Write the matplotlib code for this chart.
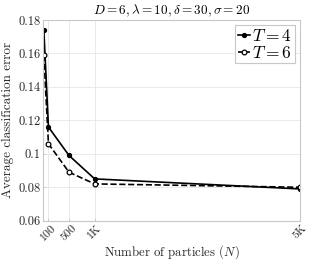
import matplotlib
matplotlib.use("Agg")
import matplotlib.pyplot as plt

plt.rcParams['font.family'] = ['cmr10', 'DejaVu Serif']
plt.rcParams['mathtext.fontset'] = 'cm'
plt.rcParams['axes.formatter.use_mathtext'] = True

N = [10, 100, 500, 1000, 5000]
err_T4 = [0.174, 0.116, 0.099, 0.085, 0.079]
err_T6 = [0.159, 0.106, 0.089, 0.082, 0.080]
xticks = [100, 500, 1000, 5000]
xticklabels = ['100', '500', '1K', '5K']
yticks = [0.06, 0.08, 0.10, 0.12, 0.14, 0.16, 0.18]
yticklabels = ['0.06', '0.08', '0.1', '0.12', '0.14', '0.16', '0.18']

fig = plt.figure(figsize=(3.32, 2.62), dpi=100)
ax = fig.add_axes([0.1305, 0.1576, 0.9036 - 0.1305, 0.9237 - 0.1576])

ax.plot(N, err_T4, '-', color='black', lw=1.2, marker='o', ms=2.8,
        mfc='black', mec='black', label='$T=4$')
ax.plot(N, err_T6, '--', color='black', lw=1.2, marker='o', ms=3.4,
        mfc='white', mec='black', mew=0.9, label='$T=6$')

ax.set_xlim(0, 5000)
ax.set_ylim(0.06, 0.18)
ax.set_xticks(xticks)
ax.set_xticklabels(xticklabels, rotation=45, fontsize=8.5)
ax.set_yticks(yticks)
ax.set_yticklabels(yticklabels, fontsize=9)
ax.grid(True, color='#e6e6e6', lw=0.6)
ax.set_axisbelow(True)
for s in ax.spines.values():
    s.set_color('#c8c8c8')
    s.set_linewidth(0.8)
ax.tick_params(colors='#262626', length=2, width=0.6, direction='in', pad=2)
ax.tick_params(axis='both', color='#c8c8c8')

ax.set_xlabel('Number of particles ($N$)', fontsize=9.2, color='#262626')
ax.xaxis.set_label_coords(0.5, -0.112)
ax.set_ylabel('Average classification error', fontsize=9.5, color='#262626', labelpad=3)
ax.set_title(r'$D=6,\lambda=10,\delta=30,\sigma=20$', fontsize=9.5, pad=4)

leg = ax.legend(loc='upper right', fontsize=12.5, handlelength=0.7, handletextpad=0.15,
                borderpad=0.15, labelspacing=0.05, fancybox=False, framealpha=1,
                borderaxespad=0.3)
leg.get_frame().set_edgecolor('#c8c8c8')
leg.get_frame().set_linewidth(0.8)

fig.savefig('out.png', dpi=100)
